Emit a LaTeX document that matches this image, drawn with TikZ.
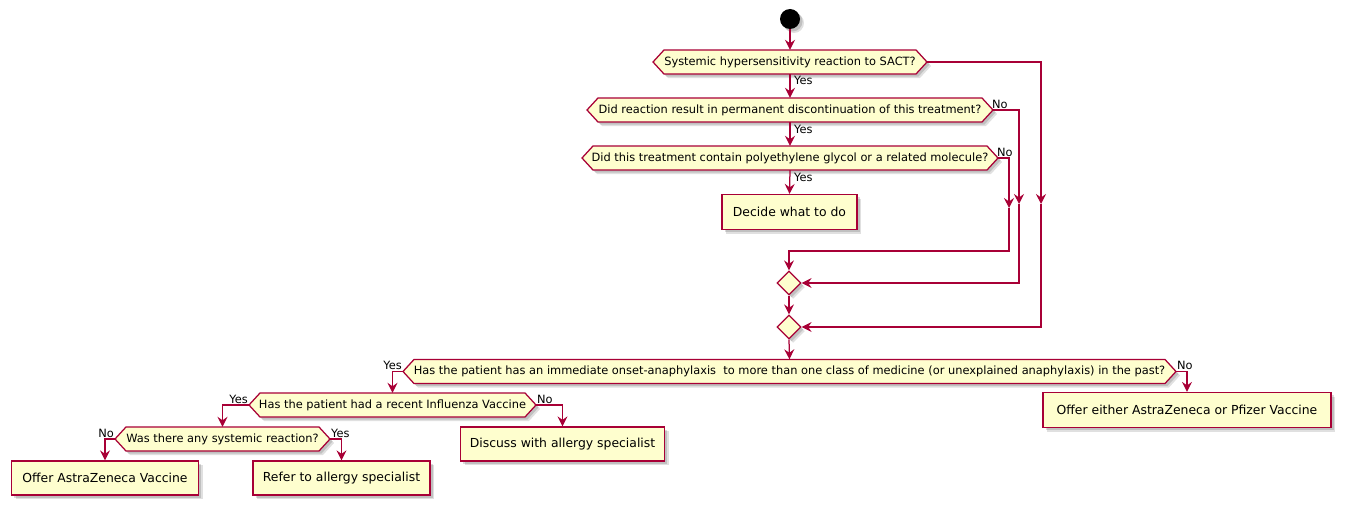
\documentclass[tikz,border=0pt]{standalone}
\usepackage{fontspec}
\setmainfont{DejaVu Sans}
\usetikzlibrary{arrows.meta,shapes.geometric,shadows}
\definecolor{umlborder}{HTML}{A80036}
\definecolor{umlfill}{HTML}{FEFECE}

\tikzset{
  flow/.style={draw=umlborder, line width=1.25pt, -{Stealth[length=10pt,width=10pt,inset=3.5pt]}},
  softshadow/.style={
    drop shadow={shadow xshift=4pt, shadow yshift=-4pt, fill=black, opacity=0.12},
    drop shadow={shadow xshift=2.5pt, shadow yshift=-2.5pt, fill=black, opacity=0.14}},
  actbox/.style={draw=umlborder, fill=umlfill, line width=1.25pt, minimum height=34pt, inner sep=0pt,
    font=\fontsize{12.4}{14}\selectfont, softshadow},
  merge/.style={diamond, draw=umlborder, fill=umlfill, line width=1.25pt, minimum width=24pt,
    minimum height=24pt, inner sep=0pt, softshadow},
  hexbody/.style={draw=umlborder, fill=umlfill, line width=1.25pt},
  hexshadeA/.style={fill=black, opacity=0.12, xshift=4pt, yshift=-4pt},
  hexshadeB/.style={fill=black, opacity=0.14, xshift=2.5pt, yshift=-2.5pt},
  hextext/.style={minimum height=24pt, inner sep=0pt, font=\fontsize{11.4}{13}\selectfont},
  branch/.style={font=\fontsize{11.4}{13}\selectfont, inner sep=0pt},
}

% outline of a decision hexagon: centre x, centre y, half width
\newcommand\hexoutline[3]{({#1-#3},#2) -- ({#1-#3+11},{#2-12}) -- ({#1+#3-11},{#2-12}) -- ({#1+#3},#2)
    -- ({#1+#3-11},{#2+12}) -- ({#1-#3+11},{#2+12}) -- cycle}

% decision hexagon: name, centre x, centre y, half width (tip to centre), text
\newcommand\hexdec[5]{%
  \fill[hexshadeA] \hexoutline{#2}{#3}{#4};
  \fill[hexshadeB] \hexoutline{#2}{#3}{#4};
  \path[hexbody] \hexoutline{#2}{#3}{#4};
  \node[hextext, minimum width={2*#4}] (#1) at (#2,#3) {#5};%
}

\begin{document}
\begin{tikzpicture}[x=1pt,y=-1pt]
\useasboundingbox (0,0) rectangle (1346,511);

% start
\node[circle, fill=black, minimum size=20pt, inner sep=0pt, softshadow] (start) at (790,19) {};

% decisions of the upper chain
\hexdec{d1}{790}{62}{137}{Systemic hypersensitivity reaction to SACT?}
\hexdec{d2}{790}{110}{203}{Did reaction result in permanent discontinuation of this treatment?}
\hexdec{d3}{790}{158}{208}{Did this treatment contain polyethylene glycol or a related molecule?}

\node[actbox, minimum width=135pt, minimum height=35pt] (decide) at (789.5,212) {Decide what to do};

% merge points
\node[merge] (m1) at (789,283) {};
\node[merge] (m2) at (789,327) {};

% lower decisions
\hexdec{d4}{789.5}{371.5}{386.5}{Has the patient has an immediate onset-anaphylaxis\ \ to more than one class of medicine (or unexplained anaphylaxis) in the past?}
\hexdec{d5}{392.5}{405}{143.5}{Has the patient had a recent Influenza Vaccine}
\hexdec{d6}{222.5}{439}{107.5}{Was there any systemic reaction?}

% actions
\node[actbox, minimum width=288pt, minimum height=35pt] (either) at (1187,410) {Offer either AstraZeneca or Pfizer Vaccine};
\node[actbox, minimum width=204pt] (discuss) at (562.5,444) {Discuss with allergy specialist};
\node[actbox, minimum width=187pt] (offeraz) at (105,478) {Offer AstraZeneca Vaccine};
\node[actbox, minimum width=177pt] (refer) at (341.5,478) {Refer to allergy specialist};

% branch labels
\node[branch, anchor=west] (y1) at (794,80) {Yes};
\node[branch, anchor=west] (y2) at (794,129) {Yes};
\node[branch, anchor=west] (y3) at (794,177) {Yes};
\node[branch, anchor=west] (n2) at (992,104) {No};
\node[branch, anchor=west] (n3) at (997,152) {No};
\node[branch, anchor=east] (y4) at (402,365) {Yes};
\node[branch, anchor=west] (n4) at (1177,365) {No};
\node[branch, anchor=east] (y5) at (248,399) {Yes};
\node[branch, anchor=west] (n5) at (537,399) {No};
\node[branch, anchor=east] (n6) at (114,433) {No};
\node[branch, anchor=west] (y6) at (331,433) {Yes};

% bends of the "No" routes
\coordinate (c1) at (1041,204);
\coordinate (c2) at (1019,204);
\coordinate (c3) at (1009,208);
\coordinate (j3) at (1009,251);

% connectors
\draw[flow] (start) -- (d1.north);
\draw[flow] (d1.south) -- (d2.north);
\draw[flow] (d2.south) -- (d3.north);
\draw[flow] (d3.south) -- (decide.north);
\draw[flow] (d1.east) -| (c1);
\draw[flow] (c1) |- (m2.east);
\draw[flow] (d2.east) -| (c2);
\draw[flow] (c2) |- (m1.east);
\draw[flow] (d3.east) -| (c3);
\draw[flow] (c3) -- (j3) -| (m1.north);
\draw[flow] (m1.south) -- (m2.north);
\draw[flow] (m2.south) -- (d4.north);
\draw[flow] (d4.west) -| (d5.north);
\draw[flow] (d4.east) -| (either.north);
\draw[flow] (d5.west) -| (d6.north);
\draw[flow] (d5.east) -| (discuss.north);
\draw[flow] (d6.west) -| (offeraz.north);
\draw[flow] (d6.east) -| (refer.north);
\end{tikzpicture}
\end{document}
